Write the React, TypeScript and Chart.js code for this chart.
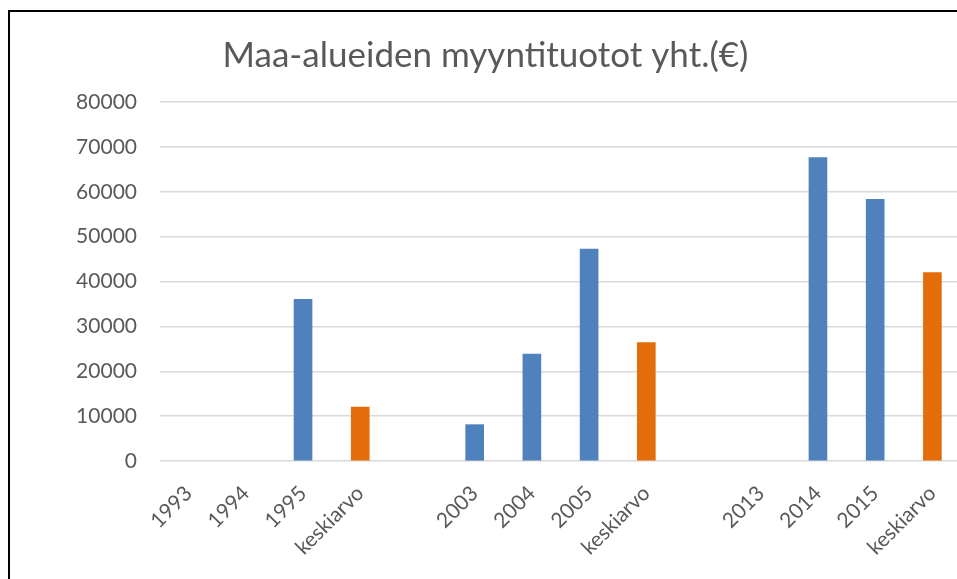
import React, { useEffect, useRef } from "react";
import { Chart, registerables } from "chart.js";

Chart.register(...registerables);

const title = "Maa-alueiden myyntituotot yht.(€)";
const categories = [
  "1993", "1994", "1995", "keskiarvo", "",
  "2003", "2004", "2005", "keskiarvo", "",
  "2013", "2014", "2015", "keskiarvo",
];
const yearValues = [null, null, 36000, null, null, 8100, 23800, 47200, null, null, null, 67600, 58300, null];
const averageValues = [null, null, null, 12000, null, null, null, null, 26400, null, null, null, null, 42000];
const yTicks = [0, 10000, 20000, 30000, 40000, 50000, 60000, 70000, 80000];

const BLUE = "#4F81BD";
const ORANGE = "#E46C0A";
const TEXT = "#595959";
const FONT = "Lato, 'Open Sans', sans-serif";

export default function App() {
  const ref = useRef<HTMLCanvasElement | null>(null);

  useEffect(() => {
    if (!ref.current) return;
    const chart = new Chart(ref.current, {
      type: "bar",
      data: {
        labels: categories,
        datasets: [
          {
            label: "Myyntituotot",
            data: yearValues,
            backgroundColor: BLUE,
            barThickness: 18,
          },
          {
            label: "Keskiarvo",
            data: averageValues,
            backgroundColor: ORANGE,
            barThickness: 18,
          },
        ],
      },
      options: {
        responsive: false,
        animation: false,
        layout: { padding: { left: 0, right: 9, top: 0, bottom: 0 } },
        plugins: {
          legend: { display: false },
          tooltip: { enabled: false },
          title: {
            display: true,
            text: title,
            color: TEXT,
            font: { family: FONT, size: 35, weight: "normal" },
            padding: { top: 23, bottom: 25 },
          },
        },
        scales: {
          x: {
            stacked: true,
            grid: { display: false },
            border: { display: false },
            ticks: {
              color: TEXT,
              font: { family: FONT, size: 21 },
              maxRotation: 45,
              minRotation: 45,
              autoSkip: false,
              padding: 12,
            },
            afterFit: (scale: any) => {
              scale.height = 118;
            },
          },
          y: {
            stacked: true,
            min: 0,
            max: 80000,
            afterBuildTicks: (scale: any) => {
              scale.ticks = yTicks.map((v) => ({ value: v }));
            },
            grid: { color: "#d9d9d9", lineWidth: 1.5, drawTicks: false },
            border: { display: false },
            ticks: {
              color: TEXT,
              font: { family: FONT, size: 21 },
              padding: 23,
              callback: (v: any) => String(v),
            },
            afterFit: (scale: any) => {
              scale.width = 150;
            },
          },
        },
      },
    });
    return () => chart.destroy();
  }, []);

  return (
    <div
      style={{
        position: "fixed",
        left: 8,
        top: 10,
        width: 970,
        height: 580,
        borderLeft: "2px solid #000",
        borderTop: "2px solid #000",
        background: "#fff",
        overflow: "hidden",
      }}
    >
      <canvas ref={ref} width={960} height={567} style={{ display: "block" }} />
    </div>
  );
}
